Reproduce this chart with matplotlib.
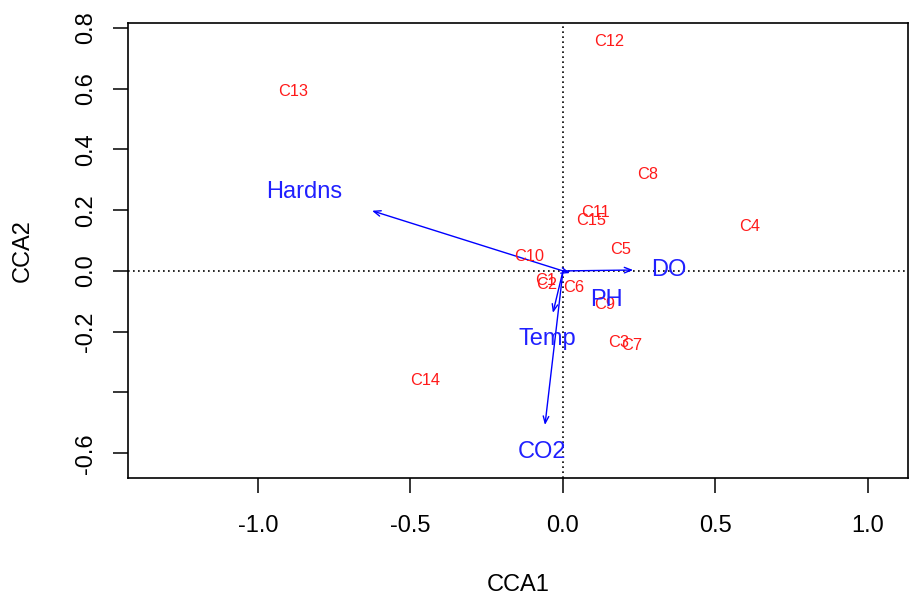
import matplotlib
matplotlib.use("Agg")
import matplotlib.pyplot as plt

plt.rcParams['font.family'] = ['Liberation Sans', 'DejaVu Sans']

# Site scores
site_labels = ["C1", "C2", "C3", "C4", "C5", "C6", "C7", "C8", "C9", "C10",
               "C11", "C12", "C13", "C14", "C15"]
site_x = [-0.056, -0.052, 0.184, 0.613, 0.190, 0.036, 0.226, 0.279, 0.138, -0.111,
          0.108, 0.151, -0.885, -0.452, 0.092]
site_y = [-0.033, -0.046, -0.237, 0.145, 0.072, -0.053, -0.244, 0.319, -0.112, 0.049,
          0.191, 0.754, 0.589, -0.359, 0.165]

# Environmental biplot arrows
env_labels = ["Hardns", "DO", "CO2", "Temp", "PH"]
env_x = [-0.626, 0.230, -0.059, -0.033, 0.023]
env_y = [0.198, 0.003, -0.507, -0.138, -0.007]
env_lab_x = [-0.849, 0.348, -0.069, -0.052, 0.141]
env_lab_y = [0.260, 0.003, -0.596, -0.224, -0.095]

fig = plt.figure(figsize=(9.10, 6.01), dpi=100)
ax = fig.add_axes([0.14066, 0.20466, 0.8571, 0.75707])
ax.set_xlim(-1.426, 1.131)
ax.set_ylim(-0.6815, 0.816)

ax.axhline(0, color='black', linestyle=(0, (1, 2)), linewidth=1.2, zorder=1)
ax.axvline(0, color='black', linestyle=(0, (1, 2)), linewidth=1.2, zorder=1)

for lab, x, y in zip(site_labels, site_x, site_y):
    ax.text(x, y, lab, color='#ff1a1a', fontsize=11.8, ha='center', va='center', zorder=3)

for lab, x, y, lx, ly in zip(env_labels, env_x, env_y, env_lab_x, env_lab_y):
    ax.annotate('', xy=(x, y), xytext=(0, 0),
                arrowprops=dict(arrowstyle='->,head_length=0.5,head_width=0.2',
                                color='#0000ff', lw=1.0, shrinkA=0, shrinkB=0), zorder=2)
    ax.text(lx, ly, lab, color='#2020ff', fontsize=17, ha='center', va='center', zorder=3)

xt = [-1.0, -0.5, 0.0, 0.5, 1.0]
ax.set_xticks(xt)
ax.set_xticklabels(["-1.0", "-0.5", "0.0", "0.5", "1.0"], fontsize=17)
yt = [-0.6, -0.4, -0.2, 0.0, 0.2, 0.4, 0.6, 0.8]
ax.set_yticks(yt)
ax.set_yticklabels(["-0.6", "", "-0.2", "0.0", "0.2", "0.4", "0.6", "0.8"],
                   fontsize=17, rotation=90, va='center')
ax.tick_params(direction='out', length=10.8, width=1.1)
ax.tick_params(axis='x', pad=15.5)
ax.tick_params(axis='y', pad=11.5)
for s in ax.spines.values():
    s.set_linewidth(1.2)

ax.set_xlabel("CCA1", fontsize=17, va='center')
ax.xaxis.set_label_coords(0.5, (478 - 585) / (478 - 23))
ax.set_ylabel("CCA2", fontsize=17, va='center')
ax.yaxis.set_label_coords((23 - 128) / 780, 0.5)

fig.savefig("out.png", dpi=100)
